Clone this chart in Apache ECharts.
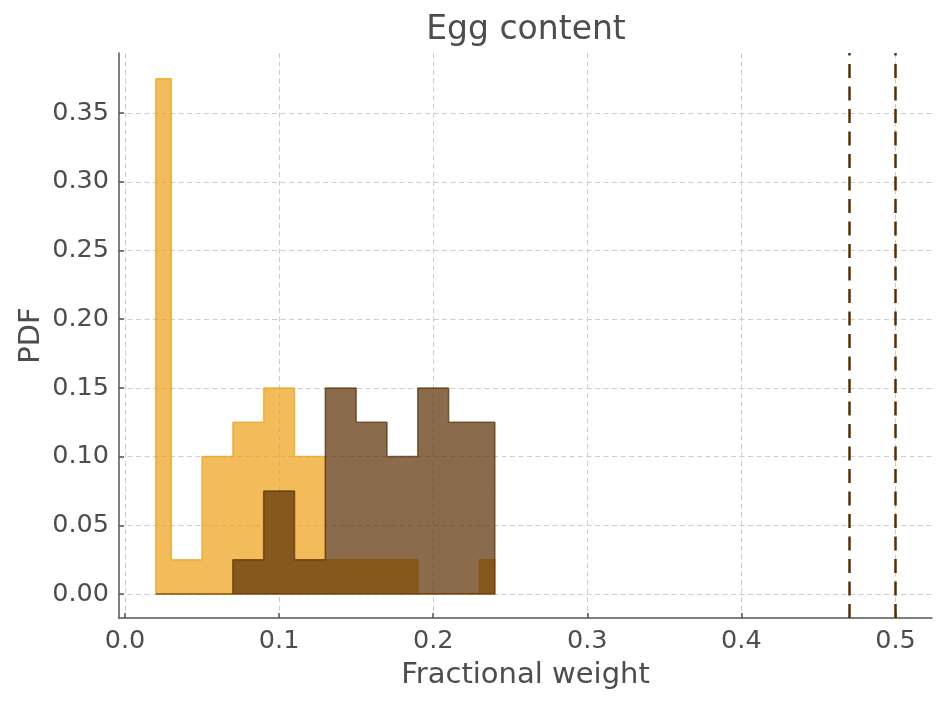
<!DOCTYPE html>
<html>
<head>
<meta charset="utf-8">
<script src="https://cdn.jsdelivr.net/npm/echarts@6/dist/echarts.min.js"></script>
<style>html,body{margin:0;padding:0;background:#fff}#c{width:947px;height:704px}</style>
</head>
<body>
<div id="c"></div>
<script>
// Histogram bin edges (shared) and PDF heights per bin
const binEdges = [0.02, 0.03, 0.05, 0.07, 0.09, 0.11, 0.13, 0.15, 0.17, 0.19, 0.21, 0.23, 0.24];
const orangePdf = [0.375, 0.025, 0.1, 0.125, 0.15, 0.1, 0.025, 0.025, 0.025, 0, 0, 0.025];
const brownPdf  = [0, 0, 0, 0.025, 0.075, 0.025, 0.15, 0.125, 0.1, 0.15, 0.125, 0.125];
const refLines = [0.4723, 0.5];
const xTicks = [0, 0.1, 0.2, 0.3, 0.4, 0.5];
const yTicks = [0, 0.05, 0.1, 0.15, 0.2, 0.25, 0.3, 0.35];

function stepOutline(edges, h) {
  const pts = [[edges[0], 0]];
  for (let i = 0; i < h.length; i++) {
    pts.push([edges[i], h[i]]);
    pts.push([edges[i + 1], h[i]]);
  }
  pts.push([edges[edges.length - 1], 0]);
  pts.push([edges[0], 0]);
  return pts;
}

const textColor = '#4d4d4d';
const font = 'DejaVu Sans';
const chart = echarts.init(document.getElementById('c'), null, {renderer: 'canvas'});
chart.setOption({
  animation: false,
  backgroundColor: '#ffffff',
  title: {
    text: 'Egg content', left: 521, top: 9, textAlign: 'center',
    textStyle: {fontFamily: font, fontSize: 33, fontWeight: 'normal', color: textColor}
  },
  grid: {left: 119, right: 15, top: 53, bottom: 86, containLabel: false},
  xAxis: {
    type: 'value', min: -0.0039, max: 0.5237,
    name: 'Fractional weight', nameLocation: 'middle', nameGap: 43,
    nameTextStyle: {fontFamily: font, fontSize: 29, color: textColor},
    axisLine: {show: true, onZero: false, lineStyle: {color: '#555555', width: 1.5}},
    axisTick: {show: true, inside: true, length: 5, customValues: xTicks, lineStyle: {color: '#555555', width: 1.5}},
    axisLabel: {customValues: xTicks, margin: 10, fontFamily: font, fontSize: 25.5, color: textColor,
      formatter: v => v.toFixed(1)},
    splitLine: {show: true, lineStyle: {color: '#cccccc', width: 1, type: [5, 3.5]}}
  },
  yAxis: {
    type: 'value', min: -0.01746, max: 0.3937,
    name: 'PDF', nameLocation: 'middle', nameGap: 73, nameMoveOverlap: false,
    nameTextStyle: {fontFamily: font, fontSize: 29, color: textColor},
    axisLine: {show: true, onZero: false, lineStyle: {color: '#555555', width: 1.5}},
    axisTick: {show: true, inside: true, length: 5, customValues: yTicks, lineStyle: {color: '#555555', width: 1.5}},
    axisLabel: {customValues: yTicks, margin: 10, fontFamily: font, fontSize: 25.5, color: textColor,
      formatter: v => v.toFixed(2)},
    splitLine: {show: true, lineStyle: {color: '#cccccc', width: 1, type: [5, 3.5]}}
  },
  series: [
    {
      type: 'line', data: stepOutline(binEdges, orangePdf), showSymbol: false, symbol: 'none',
      lineStyle: {color: 'rgba(236,159,22,0.7)', width: 1.5},
      areaStyle: {color: 'rgba(236,159,22,0.7)', opacity: 1, origin: 0},
      z: 2
    },
    {
      type: 'line', data: stepOutline(binEdges, brownPdf), showSymbol: false, symbol: 'none',
      lineStyle: {color: 'rgba(89,46,2,0.7)', width: 1.5},
      areaStyle: {color: 'rgba(89,46,2,0.7)', opacity: 1, origin: 0},
      z: 3,
      markLine: {
        silent: true, symbol: 'none', label: {show: false},
        lineStyle: {color: '#5a3000', width: 2.5, type: [14, 8.5]},
        data: refLines.map(v => ({xAxis: v}))
      }
    }
  ]
});
</script>
</body>
</html>
